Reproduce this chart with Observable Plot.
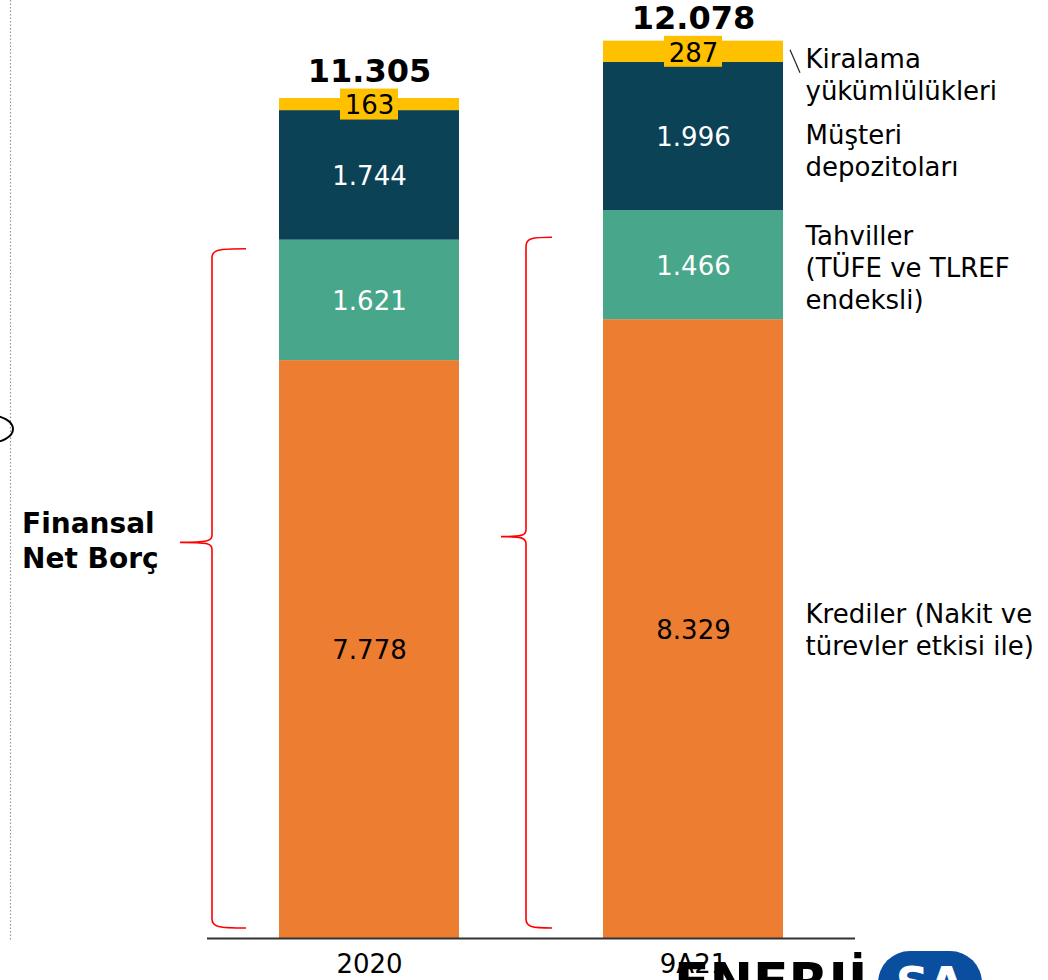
<!DOCTYPE html>
<html><head><meta charset="utf-8">
<script src="https://cdn.jsdelivr.net/npm/d3@7"></script>
<script src="https://cdn.jsdelivr.net/npm/@observablehq/plot@0.6"></script>
<style>
html,body{margin:0;padding:0;background:#fff;}
#chart{position:relative;width:1048px;height:980px;overflow:hidden;}
#chart svg{display:block;}
</style></head><body><div id="chart"></div>
<script>
// ---- data ----
const periods = ["2020", "9A21"];
const categories = ["Krediler", "Tahviller", "Müşteri depozitoları", "Kiralama yükümlülükleri"];
const krediler = [7778, 8329];
const tahviller = [1621, 1466];
const musteriDepozitolari = [1744, 1996];
const kiralama = [163, 287];
const totals = [11305, 12078];
const seriesLabels = [
  "Krediler (Nakit ve\ntürevler etkisi ile)",
  "Tahviller\n(TÜFE ve TLREF\nendeksli)",
  "Müşteri\ndepozitoları",
  "Kiralama\nyükümlülükleri"
];
const colors = ["#ED7D31", "#48A78A", "#0B4256", "#FFC000"];
const labelColors = ["#000000", "#ffffff", "#ffffff", "#000000"];
const braceLabel = "Finansal\nNet Borç";
const logoWord = "ENERJİ";
const logoMark = "SA";

// ---- build table ----
const fmt = d3.formatLocale({decimal: ",", thousands: ".", grouping: [3], currency: ["", ""]}).format(",d");
const seriesValues = [krediler, tahviller, musteriDepozitolari, kiralama];
const rows = [];
periods.forEach((p, i) => {
  let acc = 0;
  categories.forEach((c, j) => {
    const v = seriesValues[j][i];
    rows.push({period: p, category: c, j, value: v, y1: acc, y2: acc + v, mid: acc + v / 2});
    acc += v;
  });
});
const totalRows = periods.map((p, i) => ({period: p, total: totals[i], anchor: totals[i] - kiralama[i] / 2}));
const lastRows = rows.filter(r => r.period === "9A21");
const labelDy = [0, 2, 13, 22];

const yMax = 12625;
const FONT = "DejaVu Sans, Verdana, sans-serif";
const base = {fontFamily: FONT};

const plot = Plot.plot({
  width: 1048, height: 980,
  marginLeft: 207, marginRight: 193, marginTop: 0, marginBottom: 42,
  x: {domain: periods, paddingInner: 0.4444, paddingOuter: 0.2222, label: null, axis: null},
  y: {domain: [0, yMax], axis: null},
  color: {domain: categories, range: colors},
  style: {fontFamily: FONT, background: "transparent", overflow: "visible", color: "#000"},
  marks: [
    Plot.barY(rows, {x: "period", y1: "y1", y2: "y2", fill: "category"}),
    Plot.ruleY([0], {stroke: "#333333", strokeWidth: 2}),
    Plot.axisX({tickSize: 0, tickPadding: 16, fontSize: 26, fontFamily: FONT, fill: "#000", label: null}),
    // yellow label boxes
    Plot.barY(rows.filter(r => r.j === 3), {x: "period", y1: "mid", y2: "mid", fill: "#FFC000",
      insetLeft: 61, insetRight: 61, insetTop: -15.5, insetBottom: -15.5}),
    // segment values
    Plot.text(rows, {x: "period", y: "mid", dy: 1.5, text: d => fmt(d.value), fill: d => labelColors[d.j],
      fontSize: 26, ...base}),
    // totals
    Plot.text(totalRows, {x: "period", y: "anchor", dy: -33, text: d => fmt(d.total),
      fontSize: 32, fontWeight: "bold", fill: "#000", ...base}),
    // series labels on the right
    ...lastRows.map(r => Plot.text([r], {x: "period", y: "mid", dx: 112, dy: labelDy[r.j],
      text: d => seriesLabels[d.j], textAnchor: "start", lineAnchor: "middle", lineHeight: 1.23,
      fontSize: 26, fill: "#000", ...base}))
  ]
});

const chart = document.getElementById("chart");
chart.appendChild(plot);

// ---- overlay annotations using the plot's scales ----
const xs = plot.scale("x"), ys = plot.scale("y");
const bw = xs.bandwidth;
const svg = d3.select(plot);
const g = svg.append("g").attr("text-anchor", "start");

// dotted slide edge + cut ellipse
g.append("line").attr("x1", 10.5).attr("x2", 10.5).attr("y1", 0).attr("y2", ys.apply(0) + 2)
  .attr("stroke", "#999").attr("stroke-width", 1.2).attr("stroke-dasharray", "1.5,2");
g.append("ellipse").attr("cx", -12).attr("cy", 429).attr("rx", 25).attr("ry", 14)
  .attr("fill", "none").attr("stroke", "#000").attr("stroke-width", 2);

// braces
const braceGeom = {"2020": {v: -67, tip: -99, end: -33, topInset: 9}, "9A21": {v: -77, tip: -102, end: -51, topInset: 27}};
let braceTip2020 = 540;
periods.forEach((p, i) => {
  const bx = xs.apply(p);
  const gm = braceGeom[p];
  const vx = bx + gm.v, tx = bx + gm.tip, ex = bx + gm.end;
  const top = ys.apply(krediler[i] + tahviller[i]) + gm.topInset;
  const bot = ys.apply(0) - 10;
  const ty = (top + bot) / 2 - 46;
  if (p === "2020") braceTip2020 = ty;
  const d = `M${ex},${top} C${vx + 6},${top} ${vx},${top + 1} ${vx},${top + 9}
    L${vx},${ty - 7} C${vx},${ty - 1} ${vx - 5},${ty} ${tx},${ty}
    C${vx - 5},${ty} ${vx},${ty + 1} ${vx},${ty + 7}
    L${vx},${bot - 9} C${vx},${bot - 1} ${vx + 6},${bot} ${ex},${bot}`;
  g.append("path").attr("d", d).attr("fill", "none").attr("stroke", "#FF0000").attr("stroke-width", 1.6);
});

// brace label
const bl = g.append("text").attr("x", 22).attr("text-anchor", "start").attr("font-family", FONT)
  .attr("font-size", 28).attr("font-weight", "bold").attr("fill", "#000");
braceLabel.split("\n").forEach((line, k) => {
  bl.append("tspan").attr("x", 22).attr("y", braceTip2020 - 2 - 17.5 + k * 35).attr("dy", "0.36em").text(line);
});

// leader tick before "Kiralama"
const rx = xs.apply("9A21") + bw;
const topY = ys.apply(totals[1]);
g.append("line").attr("x1", rx + 7).attr("y1", topY + 9).attr("x2", rx + 17).attr("y2", topY + 32)
  .attr("stroke", "#222").attr("stroke-width", 1.2);

// logo (cut off at bottom)
g.append("text").attr("x", 674).attr("y", 1000).attr("text-anchor", "start").attr("font-family", "DejaVu Sans, sans-serif")
  .attr("font-size", 52).attr("font-weight", "900").attr("fill", "#000").text(logoWord);
g.append("rect").attr("x", 878).attr("y", 951).attr("width", 104).attr("height", 64).attr("rx", 32)
  .attr("fill", "#0A4EA0");
g.append("text").attr("x", 930).attr("y", 1000).attr("text-anchor", "middle").attr("font-family", "DejaVu Sans, sans-serif")
  .attr("font-size", 46).attr("font-weight", "900").attr("fill", "#fff").text(logoMark);
</script>
</body></html>
